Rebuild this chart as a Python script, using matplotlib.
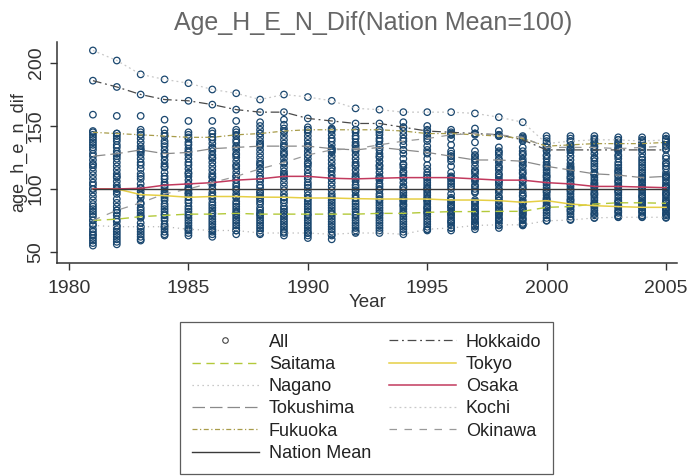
import matplotlib
matplotlib.use("Agg")
import matplotlib.pyplot as plt
from matplotlib.lines import Line2D

plt.rcParams['font.family'] = ['Liberation Sans', 'DejaVu Sans']

years = list(range(1981, 2006))

# highlighted prefectures (index = nation mean 100)
hokkaido = [186, 181, 175, 171, 170, 167, 163, 161, 161, 156, 154, 152, 152,
            149, 146, 145, 144, 143, 139, 131, 131, 131, 131, 131, 131]
saitama = [75, 76, 78, 79, 80, 80, 80.6, 80, 80, 80, 80, 80, 80.6,
           80.6, 81.4, 82, 82, 82.2, 82.2, 85.4, 86, 88, 89, 89, 88.6]
tokyo = [100, 100, 95.5, 94.7, 93.4, 94, 94, 93.5, 93.4, 92.8, 92.8, 92.3, 92,
         92, 92, 91.2, 91.2, 90.7, 89.4, 90.7, 88, 86.7, 86, 85.4, 85.4]
nagano = [71, 70, 70, 70, 68, 67, 67, 65, 65, 65, 64, 65, 65,
          64, 68, 69, 71, 71.5, 71.5, 74.7, 75.3, 77, 77.5, 77.5, 77.5]
osaka = [100, 100, 100.5, 103, 104, 105, 107, 108, 110, 110, 108.5, 108, 108.5,
         109, 109, 109, 108, 107, 107, 105, 104, 102, 102, 101.5, 101]
tokushima = [126, 128, 131, 128, 129, 132, 133, 134, 134, 134, 132, 131, 133,
             131, 129, 126, 123, 123, 122, 118, 115, 112, 111, 109, 110]
kochi = [210, 202, 191, 187, 184, 179, 176, 171, 175, 173, 170, 164, 163,
         161, 161, 161, 160, 157, 153, 136, 138, 139, 139, 138, 139]
fukuoka = [145, 144, 143, 142, 141, 141, 143, 144, 146, 147, 147, 147, 147,
           146, 144, 144, 143, 142, 140, 134, 135, 136, 136, 136, 137]
okinawa = [75, 83, 89, 96, 100, 105, 110, 116, 121, 127, 131, 132, 135,
           138, 140, 143, 144, 143, 141, 133, 133, 133, 132, 133, 134]
nation_mean = [100] * 25

# remaining prefectures, one list per year
others_1981 = [159, 146, 143, 141, 139, 137, 135, 133, 131, 128, 123, 120, 117, 114, 111, 108, 105, 103, 97,
               94, 91, 86, 84, 82, 80, 78, 72, 68, 66, 64, 63, 61, 59, 57, 55, 88, 119]
others_1982 = [158, 144, 142, 140, 138, 135, 133, 130, 126, 124, 121, 118, 115, 112, 109, 106, 103, 101, 98,
               96, 92, 89, 86, 83, 81, 79, 74, 71, 68, 66, 64, 62, 60, 58, 56, 110, 128]
others_1983 = [158, 147, 145, 143, 140, 137, 134, 132, 129, 127, 124, 121, 119, 116, 112, 108, 104, 101, 98,
               95, 93, 88, 85, 83, 81, 79, 77, 73, 70, 68, 66, 64, 62, 60, 59, 110, 130]
others_1984 = [155, 147, 144, 142, 138, 134, 131, 128, 126, 123, 120, 117, 113, 110, 108, 105, 103, 101, 98,
               96, 91, 88, 86, 84, 82, 80, 77, 75, 72, 70, 68, 66, 64, 63, 93, 118, 136]
others_1985 = [154, 145, 143, 140, 137, 135, 132, 127, 124, 121, 119, 116, 113, 110, 107, 104, 101, 99, 97,
               94, 91, 89, 86, 84, 82, 79, 77, 75, 73, 71, 69, 67, 65, 63, 112, 130, 96]
others_1986 = [154, 146, 144, 141, 139, 136, 133, 130, 127, 124, 121, 118, 115, 112, 109, 106, 103, 100, 97,
               95, 92, 89, 87, 85, 83, 81, 78, 76, 74, 72, 70, 68, 66, 64, 62, 110, 125]
others_1987 = [154, 147, 145, 142, 139, 137, 134, 131, 128, 125, 122, 119, 116, 113, 110, 107, 104, 102, 99,
               96, 93, 90, 88, 86, 84, 82, 79, 77, 75, 73, 71, 69, 67, 64, 118, 100, 127]
others_1988 = [153, 150, 147, 144, 141, 138, 135, 131, 128, 125, 122, 119, 116, 113, 110, 106, 103, 101, 98,
               95, 92, 90, 88, 85, 83, 81, 79, 77, 75, 73, 71, 69, 67, 64, 120, 136, 97]
others_1989 = [155, 151, 148, 145, 142, 139, 136, 133, 130, 127, 124, 120, 117, 114, 111, 108, 105, 102, 99,
               96, 93, 91, 89, 86, 84, 82, 80, 78, 76, 74, 72, 70, 68, 66, 63, 112, 128]
others_1990 = [149, 147, 145, 142, 139, 136, 133, 130, 127, 124, 121, 118, 115, 112, 108, 105, 103, 101, 98,
               95, 92, 90, 88, 86, 84, 82, 79, 77, 75, 73, 71, 69, 67, 65, 63, 61, 120]
others_1991 = [148, 146, 143, 140, 138, 135, 132, 129, 126, 123, 120, 117, 114, 111, 108, 105, 102, 99, 96,
               94, 91, 89, 87, 85, 83, 81, 78, 76, 74, 72, 70, 68, 66, 63, 60, 116, 130]
others_1992 = [147, 145, 142, 140, 137, 134, 130, 127, 124, 121, 118, 115, 112, 109, 106, 103, 101, 98, 95,
               93, 90, 88, 86, 84, 82, 79, 77, 75, 73, 71, 69, 67, 66, 119, 135, 99, 110]
others_1993 = [147, 145, 143, 140, 138, 135, 131, 128, 125, 122, 119, 116, 113, 110, 107, 104, 102, 99, 96,
               94, 91, 89, 87, 85, 83, 81, 79, 77, 75, 73, 71, 69, 67, 118, 126, 100, 109]
others_1994 = [153, 149, 143, 140, 135, 131, 128, 124, 120, 117, 114, 111, 108, 105, 102, 99, 97, 95, 93,
               90, 88, 86, 84, 82, 80, 78, 76, 74, 72, 70, 68, 66, 119, 113, 101, 91, 87]
others_1995 = [150, 147, 142, 138, 134, 128, 124, 113, 111, 109, 107, 105, 103, 101, 99, 97, 95, 93, 91,
               88, 86, 84, 82, 80, 78, 76, 74, 72, 70, 68, 67, 119, 116, 131, 100, 90, 85]
others_1996 = [147, 143, 140, 130, 128, 126, 124, 122, 113, 110, 108, 106, 104, 102, 93, 91, 89, 87, 85,
               83, 81, 79, 77, 75, 73, 71, 69, 67, 118, 135, 100, 96, 92, 86, 80, 74, 109]
others_1997 = [148, 144, 130, 127, 124, 121, 118, 115, 112, 109, 106, 103, 100, 97, 90, 88, 86, 84, 82,
               80, 78, 76, 74, 72, 70, 68, 126, 114, 108, 102, 98, 89, 85, 81, 77, 73, 137]
others_1998 = [146, 142, 133, 130, 127, 124, 121, 118, 115, 112, 109, 106, 103, 100, 97, 94, 91, 88, 85,
               83, 81, 79, 77, 75, 73, 71, 69, 129, 117, 111, 105, 99, 93, 87, 84, 80, 76]
others_1999 = [142, 138, 133, 130, 127, 124, 121, 118, 115, 112, 109, 106, 103, 100, 97, 94, 91, 88, 85,
               83, 81, 79, 77, 75, 73, 71, 128, 119, 113, 107, 101, 95, 89, 84, 80, 76, 72]
others_2000 = [142, 140, 138, 136, 133, 130, 127, 124, 121, 119, 117, 115, 113, 111, 109, 107, 105, 103, 101,
               99, 97, 95, 93, 91, 89, 87, 85, 83, 81, 79, 77, 75, 126, 110, 98, 92, 86]
others_2001 = [142, 140, 138, 135, 132, 129, 126, 123, 120, 118, 116, 114, 112, 110, 108, 106, 104, 102, 100,
               98, 96, 94, 92, 90, 88, 86, 84, 82, 80, 78, 76, 131, 117, 109, 99, 91, 83]
others_2002 = [142, 140, 137, 134, 131, 128, 125, 122, 120, 118, 116, 113, 111, 109, 107, 105, 103, 101, 99,
               97, 95, 93, 91, 89, 87, 85, 83, 81, 79, 77, 136, 124, 112, 104, 96, 88, 80]
others_2003 = [141, 139, 137, 135, 133, 130, 127, 124, 121, 119, 117, 115, 113, 111, 109, 107, 105, 103, 101,
               99, 97, 95, 93, 91, 89, 87, 85, 83, 81, 79, 78, 126, 114, 106, 98, 90, 82]
others_2004 = [141, 139, 137, 134, 131, 128, 123, 121, 117, 115, 113, 111, 109, 107, 105, 103, 101, 99, 97,
               95, 93, 91, 89, 87, 85, 83, 81, 79, 78, 136, 119, 108, 100, 94, 88, 82, 125]
others_2005 = [142, 140, 138, 135, 132, 126, 124, 121, 118, 116, 113, 111, 109, 107, 105, 103, 101, 99, 97,
               95, 93, 91, 89, 87, 85, 83, 81, 79, 77, 137, 120, 110, 102, 96, 90, 84, 80]

others = [others_1981, others_1982, others_1983, others_1984, others_1985, others_1986, others_1987,
          others_1988, others_1989, others_1990, others_1991, others_1992, others_1993, others_1994,
          others_1995, others_1996, others_1997, others_1998, others_1999, others_2000, others_2001,
          others_2002, others_2003, others_2004, others_2005]

# (label, values, color, linestyle, linewidth)
series = [
    ('Hokkaido', hokkaido, '#4a4a4a', (0, (7, 3, 1.5, 3)), 0.9),
    ('Saitama', saitama, '#b3c93a', (0, (6, 4)), 1.0),
    ('Tokyo', tokyo, '#e6cf45', '-', 1.1),
    ('Nagano', nagano, '#b8b8b8', (0, (1, 3)), 0.9),
    ('Osaka', osaka, '#c23a5e', '-', 1.1),
    ('Tokushima', tokushima, '#8a8a8a', (0, (10, 4)), 0.9),
    ('Kochi', kochi, '#c8c8c8', (0, (1.5, 2.5)), 0.9),
    ('Fukuoka', fukuoka, '#a89c4a', (0, (4, 2, 1, 2)), 0.9),
    ('Okinawa', okinawa, '#9a9a9a', (0, (6, 6)), 0.9),
    ('Nation Mean', nation_mean, '#3a3a3a', '-', 1.0),
]

NAVY = '#1a476f'

fig = plt.figure(figsize=(6.88, 4.76), dpi=100)
ax = fig.add_axes([0.083, 0.447, 0.901, 0.465])

# all prefectures as hollow circles
all_x, all_y = [], []
for i, yr in enumerate(years):
    vals = others[i] + [s[1][i] for s in series[:-1]]
    all_x += [yr] * len(vals)
    all_y += vals
ax.scatter(all_x, all_y, s=22, facecolors='none', edgecolors=NAVY, linewidths=0.9, zorder=2)

lines = {}
for label, vals, color, ls, lw in series:
    ln, = ax.plot(years, vals, color=color, linestyle=ls, linewidth=lw, zorder=3)
    lines[label] = ln

ax.set_xlim(1979.5, 2005.46)
ax.set_ylim(41, 216.8)
ax.set_xticks([1980, 1985, 1990, 1995, 2000, 2005])
ax.set_yticks([50, 100, 150, 200])
ax.tick_params(axis='both', direction='out', length=5, width=1, colors='#333333', labelsize=14)
ax.tick_params(axis='x', pad=7)
ax.tick_params(axis='y', labelrotation=90, pad=4)
for lab in ax.get_yticklabels():
    lab.set_va('center')
for side in ('top', 'right'):
    ax.spines[side].set_visible(False)
for side in ('left', 'bottom'):
    ax.spines[side].set_color('#333333')
    ax.spines[side].set_linewidth(1.1)

ax.set_xlabel('Year', fontsize=13.5, color='#333333', labelpad=-2)
ax.set_ylabel('age_h_e_n_dif', fontsize=13, color='#333333', labelpad=0)
fig.text(0.542, 0.952, 'Age_H_E_N_Dif(Nation Mean=100)', ha='center', va='center',
         fontsize=18, color='#666666')

# legend in Stata row order: column 1 then column 2
all_handle = Line2D([], [], linestyle='none', marker='o', markersize=4,
                    markerfacecolor='none', markeredgecolor='#444444', markeredgewidth=0.8)
col1 = ['Saitama', 'Nagano', 'Tokushima', 'Fukuoka', 'Nation Mean']
col2 = ['Hokkaido', 'Tokyo', 'Osaka', 'Kochi', 'Okinawa']
handles = [all_handle] + [lines[k] for k in col1] + [lines[k] for k in col2]
labels = ['All'] + col1 + col2
leg = fig.legend(handles, labels, ncol=2, loc='upper left', bbox_to_anchor=(0.262, 0.3235),
                 borderaxespad=0, fontsize=13, frameon=True, fancybox=False, edgecolor='#333333',
                 handlelength=3.7, handletextpad=0.55, columnspacing=1.0,
                 labelspacing=0.29, borderpad=0.65)
leg.get_frame().set_linewidth(0.9)
for t in leg.get_texts():
    t.set_color('#222222')

fig.savefig('out.png', dpi=100, facecolor='white')
